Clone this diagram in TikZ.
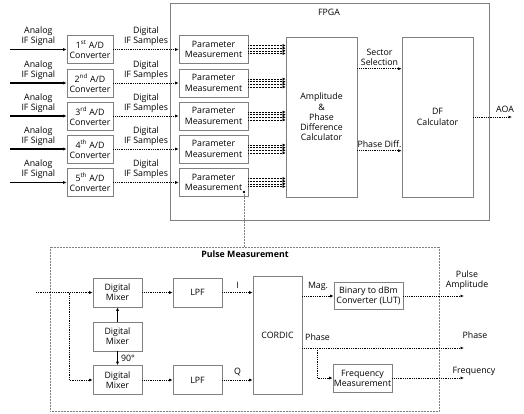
\documentclass[tikz,border=0pt]{standalone}
\usepackage{fontspec}
\setmainfont{Open Sans}
\usetikzlibrary{arrows.meta,positioning,calc}
\definecolor{boxline}{HTML}{808080}
\tikzset{
  blk/.style={draw=boxline, fill=white, line width=0.6pt, align=center,
              font=\fontsize{8.8}{10.2}\selectfont, inner sep=0pt},
  adbox/.style={blk, minimum width=46pt, minimum height=28pt},
  pmbox/.style={blk, minimum width=69pt, minimum height=28pt},
  bigbox/.style={blk, minimum width=71pt, minimum height=160pt},
  mixbox/.style={blk, minimum width=49pt, minimum height=29pt},
  lbl/.style={font=\fontsize{8.8}{10.2}\selectfont, align=center, inner sep=1pt},
  sig/.style={densely dotted, line width=0.8pt, -{Latex[length=3.5pt,width=3pt]}},
  bus/.style={densely dotted, line width=0.5pt, -{Latex[length=3pt,width=3pt]}},
  ana/.style={line width=1.1pt, -{Latex[length=3.5pt,width=3pt]}},
}

\begin{document}
\begin{tikzpicture}[x=1pt, y=-1pt]
    \useasboundingbox (0,0) rectangle (524,414);
    % FPGA part
    \draw[boxline, line width=0.6pt] (170,3) rectangle (489,220);
    \node[lbl] (fpga) at (329,12) {FPGA};
    \node[bigbox] (amp) at (321.5,117) {Amplitude\\\&\\Phase\\Difference\\Calculator};
    \node[bigbox] (df) at (437.5,117) {DF\\Calculator};
    \foreach \n/\y/\s in {1/49.5/st, 2/83/nd, 3/116/rd, 4/149/th, 5/182.5/th} {
      \coordinate (in\n) at (10,\y);
      \node[adbox] (ad\n) at (90,\y) {\n\textsuperscript{\s} A/D\\Converter};
      \node[pmbox] (pm\n) at (213.5,\y) {Parameter\\Measurement};
      \draw[ana] (in\n) -- (ad\n) node[lbl, midway, above=2pt] {Analog\\IF Signal};
      \draw[sig] (ad\n) -- (pm\n) node[lbl, midway, above=2pt] {Digital\\IF Samples};
      \foreach \d in {-4,-1.33,1.33,4}
        \draw[bus] ($(pm\n.east)+(0,\d)$) -- ($(amp.west |- pm\n.east)+(0,\d)$);
    }
    \draw[sig] ([yshift=-32pt]amp.north east) -- ([yshift=-32pt]df.north west)
      node[lbl, midway, above=2pt] {Sector\\Selection};
    \draw[sig] ([yshift=-114pt]amp.north east) -- ([yshift=-114pt]df.north west)
      node[lbl, midway, above=2pt] {Phase Diff.};
    \coordinate (aoa) at (512,117);
    \draw[sig] (df) -- (aoa) node[lbl, pos=0.82, above=3pt] {AOA};

    % pulse measurement detail
    \node[draw=boxline, densely dotted, line width=0.5pt, minimum width=389pt,
          minimum height=164pt, inner sep=0pt] (pulse) at (244.5,329) {};
    \node[lbl, font=\fontsize{8.8}{10.2}\selectfont\bfseries] (ptitle) at (245,254) {Pulse Measurement};
    \node[circle, fill, inner sep=0pt, minimum size=2.6pt] (tap) at (244,192) {};
    \draw[boxline, densely dotted, line width=0.5pt] (tap) -- (tap |- pulse.north);

    \node[mixbox] (mix1) at (117.5,292.5) {Digital\\Mixer};
    \node[mixbox] (mix2) at (117.5,336.5) {Digital\\Mixer};
    \node[mixbox] (mix3) at (117.5,380) {Digital\\Mixer};
    \node[mixbox] (lpf1) at (197.5,292.5) {LPF};
    \node[mixbox] (lpf2) at (197.5,380) {LPF};
    \node[mixbox, minimum height=118pt] (cordic) at (277.5,335) {CORDIC};
    \node[blk, minimum width=69pt, minimum height=27pt] (bin) at (368.5,296) {Binary to dBm\\Converter (LUT)};
    \node[blk, minimum width=59pt, minimum height=28pt] (freq) at (362.5,378) {Frequency\\Measurement};

    \coordinate (pin) at (36,292.5);
    \coordinate (br) at (69,292.5);
    \draw[sig] (pin) -- (mix1);
    \draw[sig] (br) |- (mix3);
    \draw[ana] (mix2) -- (mix1);
    \draw[ana] (mix2) -- (mix3) node[lbl, midway, right=2pt] {90°};
    \draw[sig] (mix1) -- (lpf1);
    \draw[sig] (mix3) -- (lpf2);
    \draw[sig] (lpf1) -- (lpf1 -| cordic.west) node[lbl, midway, above=3pt] {I};
    \draw[sig] (lpf2) -- (lpf2 -| cordic.west) node[lbl, midway, above=3pt] {Q};
    \draw[sig] (cordic.east |- bin) -- (bin) node[lbl, midway, above=4pt] {Mag.};

    \coordinate (pampout) at (464,296);
    \coordinate (phout) at (464,348);
    \coordinate (frout) at (464,378);
    \coordinate (fb) at (317,348);
    \draw[sig] (bin) -- (pampout) node[lbl, at end, above=5pt, xshift=3pt] {Pulse\\Amplitude};
    \draw[sig] ([yshift=-13pt]cordic.east) -- (phout) node[lbl, at end, above=8pt, xshift=11pt] {Phase};
    \node[lbl, anchor=south west] (phlbl) at (304,342) {Phase};
    \draw[sig] (fb) |- (freq);
    \draw[sig] (freq) -- (frout) node[lbl, at end, above=1pt, xshift=10pt] {Frequency};
\end{tikzpicture}
\end{document}
